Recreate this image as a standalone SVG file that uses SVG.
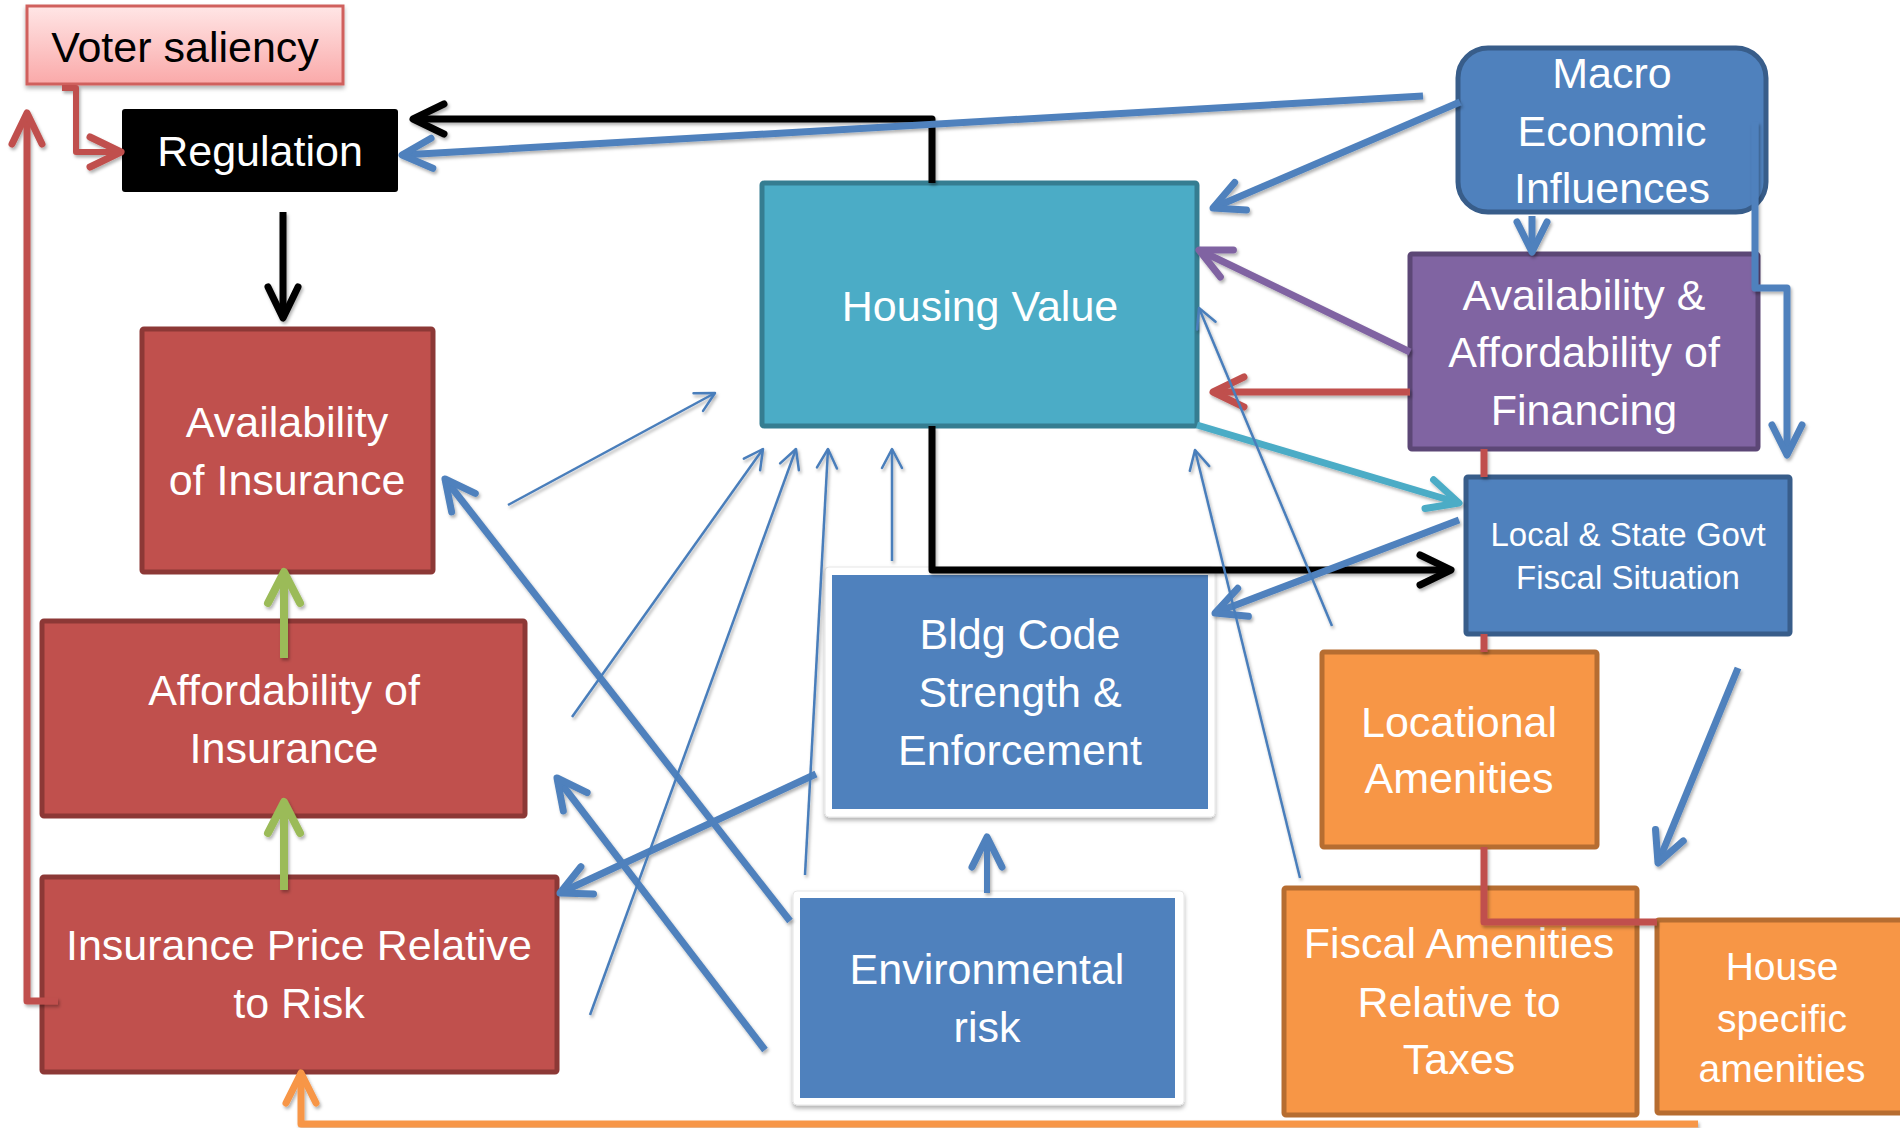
<svg xmlns="http://www.w3.org/2000/svg" width="1900" height="1128" viewBox="0 0 1900 1128">
<defs>
  <style>
    .lbl { font-family: "Liberation Sans", Arial, sans-serif; font-size: 43px; fill: #ffffff; text-anchor: middle; }
    .sm { font-size: 33px; }
    .md { font-size: 39px; }
    .red { fill: #c0504d; stroke: #8c3836; stroke-width: 5; }
    .blue { fill: #4f81bd; stroke: #385d8a; stroke-width: 5; }
    .orange { fill: #f79646; stroke: #b66d31; stroke-width: 5; }
    .frame { fill: #ffffff; stroke: #e6e6e6; stroke-width: 1; }
    .c { fill: none; stroke-linejoin: round; }
    .thick { stroke-width: 7; }
    .thin { stroke-width: 2.5; stroke: #4a7ebb; marker-end: url(#aThin); }
    .bl { stroke: #4f81bd; marker-end: url(#aBlue); }
  </style>
  <linearGradient id="pink" x1="0" y1="0" x2="0" y2="1">
    <stop offset="0" stop-color="#ffe6e6"/>
    <stop offset="1" stop-color="#faa9a9"/>
  </linearGradient>
  <filter id="ds" filterUnits="userSpaceOnUse" x="0" y="0" width="1900" height="1128">
    <feDropShadow dx="1.5" dy="2.5" stdDeviation="1.5" flood-color="#000" flood-opacity="0.3"/>
  </filter>
  <filter id="bs" filterUnits="userSpaceOnUse" x="0" y="0" width="1900" height="1128">
    <feDropShadow dx="0" dy="3" stdDeviation="2" flood-color="#000" flood-opacity="0.3"/>
  </filter>
  <marker id="aBlue" markerUnits="userSpaceOnUse" markerWidth="40" markerHeight="40" refX="0" refY="0" orient="auto" overflow="visible">
    <path d="M-30,-15 L0,0 L-30,15" fill="none" stroke="#4f81bd" stroke-width="7" stroke-linecap="round" stroke-linejoin="round"/>
  </marker>
  <marker id="aThin" markerUnits="userSpaceOnUse" markerWidth="30" markerHeight="30" refX="0" refY="0" orient="auto" overflow="visible">
    <path d="M-19,-10 L0,0 L-19,10" fill="none" stroke="#4a7ebb" stroke-width="2.5" stroke-linecap="round" stroke-linejoin="round"/>
  </marker>
  <marker id="aBlack" markerUnits="userSpaceOnUse" markerWidth="40" markerHeight="40" refX="0" refY="0" orient="auto-start-reverse" overflow="visible">
    <path d="M-31,-15 L0,0 L-31,15" fill="none" stroke="#000000" stroke-width="7" stroke-linecap="round" stroke-linejoin="round"/>
  </marker>
  <marker id="aRed" markerUnits="userSpaceOnUse" markerWidth="40" markerHeight="40" refX="0" refY="0" orient="auto" overflow="visible">
    <path d="M-31,-15 L0,0 L-31,15" fill="none" stroke="#c0504d" stroke-width="7" stroke-linecap="round" stroke-linejoin="round"/>
  </marker>
  <marker id="aPurple" markerUnits="userSpaceOnUse" markerWidth="40" markerHeight="40" refX="0" refY="0" orient="auto" overflow="visible">
    <path d="M-31,-15 L0,0 L-31,15" fill="none" stroke="#8064a2" stroke-width="7" stroke-linecap="round" stroke-linejoin="round"/>
  </marker>
  <marker id="aTeal" markerUnits="userSpaceOnUse" markerWidth="40" markerHeight="40" refX="0" refY="0" orient="auto" overflow="visible">
    <path d="M-31,-15 L0,0 L-31,15" fill="none" stroke="#4bacc6" stroke-width="7" stroke-linecap="round" stroke-linejoin="round"/>
  </marker>
  <marker id="aGreen" markerUnits="userSpaceOnUse" markerWidth="40" markerHeight="40" refX="0" refY="0" orient="auto" overflow="visible">
    <path d="M-31,-16 L0,0 L-31,16" fill="none" stroke="#9bbb59" stroke-width="8" stroke-linecap="round" stroke-linejoin="round"/>
  </marker>
  <marker id="aOrange" markerUnits="userSpaceOnUse" markerWidth="40" markerHeight="40" refX="0" refY="0" orient="auto" overflow="visible">
    <path d="M-30,-15 L0,0 L-30,15" fill="none" stroke="#f79646" stroke-width="7" stroke-linecap="round" stroke-linejoin="round"/>
  </marker>
</defs>

<rect x="0" y="0" width="1900" height="1128" fill="#ffffff"/>

<g id="voter-saliency">
  <rect x="27" y="6" width="316" height="78" fill="url(#pink)" stroke="#d0605d" stroke-width="3" filter="url(#bs)"/>
  <text class="lbl" x="185" y="62" style="fill:#000000">Voter saliency</text>
</g>

<g id="regulation">
  <rect x="122" y="109" width="276" height="83" rx="3" fill="#000000"/>
  <text class="lbl" x="260" y="166">Regulation</text>
</g>

<g id="availability-of-insurance">
  <rect class="red" x="142" y="329" width="291" height="243" rx="2"/>
  <text class="lbl" x="287" y="437">Availability</text>
  <text class="lbl" x="287" y="495">of Insurance</text>
</g>

<g id="affordability-of-insurance">
  <rect class="red" x="42" y="621" width="483" height="195" rx="2"/>
  <text class="lbl" x="284" y="705">Affordability of</text>
  <text class="lbl" x="284" y="763">Insurance</text>
</g>

<g id="insurance-price">
  <rect class="red" x="42" y="877" width="515" height="195" rx="2"/>
  <text class="lbl" x="299" y="960">Insurance Price Relative</text>
  <text class="lbl" x="299" y="1018">to Risk</text>
</g>

<g id="housing-value">
  <rect x="762" y="183" width="435" height="243" rx="2" fill="#4bacc6" stroke="#357d91" stroke-width="5"/>
  <text class="lbl" x="980" y="321">Housing Value</text>
</g>

<g id="macro-economic">
  <rect class="blue" x="1458" y="48" width="308" height="164" rx="30"/>
  <text class="lbl" x="1612" y="88">Macro</text>
  <text class="lbl" x="1612" y="146">Economic</text>
  <text class="lbl" x="1612" y="203">Influences</text>
</g>

<g id="financing">
  <rect x="1410" y="254" width="348" height="195" rx="2" fill="#8064a2" stroke="#5c4776" stroke-width="5"/>
  <text class="lbl" x="1584" y="310">Availability &amp;</text>
  <text class="lbl" x="1584" y="367">Affordability of</text>
  <text class="lbl" x="1584" y="425">Financing</text>
</g>

<g id="local-state-govt">
  <rect class="blue" x="1466" y="477" width="324" height="157" rx="2"/>
  <text class="lbl sm" x="1628" y="546">Local &amp; State Govt</text>
  <text class="lbl sm" x="1628" y="589">Fiscal Situation</text>
</g>

<g id="bldg-code">
  <rect class="frame" x="825" y="567" width="390" height="250" rx="4" filter="url(#bs)"/>
  <rect x="832" y="575" width="376" height="234" fill="#4f81bd"/>
  <text class="lbl" x="1020" y="649">Bldg Code</text>
  <text class="lbl" x="1020" y="707">Strength &amp;</text>
  <text class="lbl" x="1020" y="765">Enforcement</text>
</g>

<g id="environmental-risk">
  <rect class="frame" x="793" y="891" width="391" height="214" rx="4" filter="url(#bs)"/>
  <rect x="800" y="898" width="375" height="200" fill="#4f81bd"/>
  <text class="lbl" x="987" y="984">Environmental</text>
  <text class="lbl" x="987" y="1042">risk</text>
</g>

<g id="locational-amenities">
  <rect class="orange" x="1322" y="652" width="275" height="195" rx="2"/>
  <text class="lbl" x="1459" y="737">Locational</text>
  <text class="lbl" x="1459" y="793">Amenities</text>
</g>

<g id="fiscal-amenities">
  <rect class="orange" x="1284" y="888" width="353" height="227" rx="2"/>
  <text class="lbl" x="1459" y="958">Fiscal Amenities</text>
  <text class="lbl" x="1459" y="1017">Relative to</text>
  <text class="lbl" x="1459" y="1074">Taxes</text>
</g>

<g id="house-specific">
  <rect class="orange" x="1657" y="920" width="270" height="193" rx="2"/>
  <text class="lbl md" x="1782" y="980">House</text>
  <text class="lbl md" x="1782" y="1032">specific</text>
  <text class="lbl md" x="1782" y="1082">amenities</text>
</g>

<g id="connectors" filter="url(#ds)">
  <!-- black: housing value to regulation and to local/state -->
  <path class="c thick" stroke="#000000" d="M413,119 H932 V183 M932,426 V570 H1451" marker-start="url(#aBlack)" marker-end="url(#aBlack)"/>
  <path class="c thick" stroke="#000000" d="M283,212 V318" marker-end="url(#aBlack)"/>
  <!-- macro -->
  <path class="c thick bl" d="M1423,96 L402,155"/>
  <path class="c thick bl" d="M1460,102 L1213,208"/>
  <path class="c thick bl" d="M1532,216 V252"/>
  <path class="c thick bl" d="M1755,122 V288 H1787 V455"/>
  <!-- financing -->
  <path class="c thick" stroke="#8064a2" d="M1410,352 L1199,250" marker-end="url(#aPurple)"/>
  <path class="c thick" stroke="#c0504d" d="M1410,392 H1213" marker-end="url(#aRed)"/>
  <path class="c thick" stroke="#c0504d" d="M1484,449 V477 M1484,634 V652 M1484,847 V922 H1657"/>
  <!-- housing value to local/state -->
  <path class="c thick" stroke="#4bacc6" d="M1197,425 L1459,503" marker-end="url(#aTeal)"/>
  <!-- local/state -->
  <path class="c thick bl" d="M1459,520 L1215,613"/>
  <path class="c thick bl" d="M1738,668 L1658,863"/>
  <!-- environmental risk -->
  <path class="c bl" stroke-width="6" d="M987,893 V837"/>
  <path class="c thick bl" d="M790,921 L445,479"/>
  <path class="c thick bl" d="M765,1050 L557,778"/>
  <path class="c thick bl" d="M816,774 L560,893"/>
  <!-- thin influences on housing value -->
  <path class="c thin" d="M508,505 L715,393"/>
  <path class="c thin" d="M572,717 L763,449"/>
  <path class="c thin" d="M590,1015 L796,449"/>
  <path class="c thin" d="M805,875 L828,449"/>
  <path class="c thin" d="M892,561 V449"/>
  <path class="c thin" d="M1332,626 L1199,308"/>
  <path class="c thin" d="M1300,878 L1195,450"/>
  <!-- insurance chain -->
  <path class="c" stroke="#9bbb59" stroke-width="8" d="M284,658 V572" marker-end="url(#aGreen)"/>
  <path class="c" stroke="#9bbb59" stroke-width="8" d="M284,890 V802" marker-end="url(#aGreen)"/>
  <path class="c thick" stroke="#f79646" d="M1698,1124 H301 V1073" marker-end="url(#aOrange)"/>
  <!-- voter saliency -->
  <path class="c" stroke="#c0504d" stroke-width="6" d="M62,88 H76 V152 H121" marker-end="url(#aRed)"/>
  <path class="c thick" stroke="#c0504d" d="M58,1001 H27 V113" marker-end="url(#aRed)"/>
</g>
</svg>
